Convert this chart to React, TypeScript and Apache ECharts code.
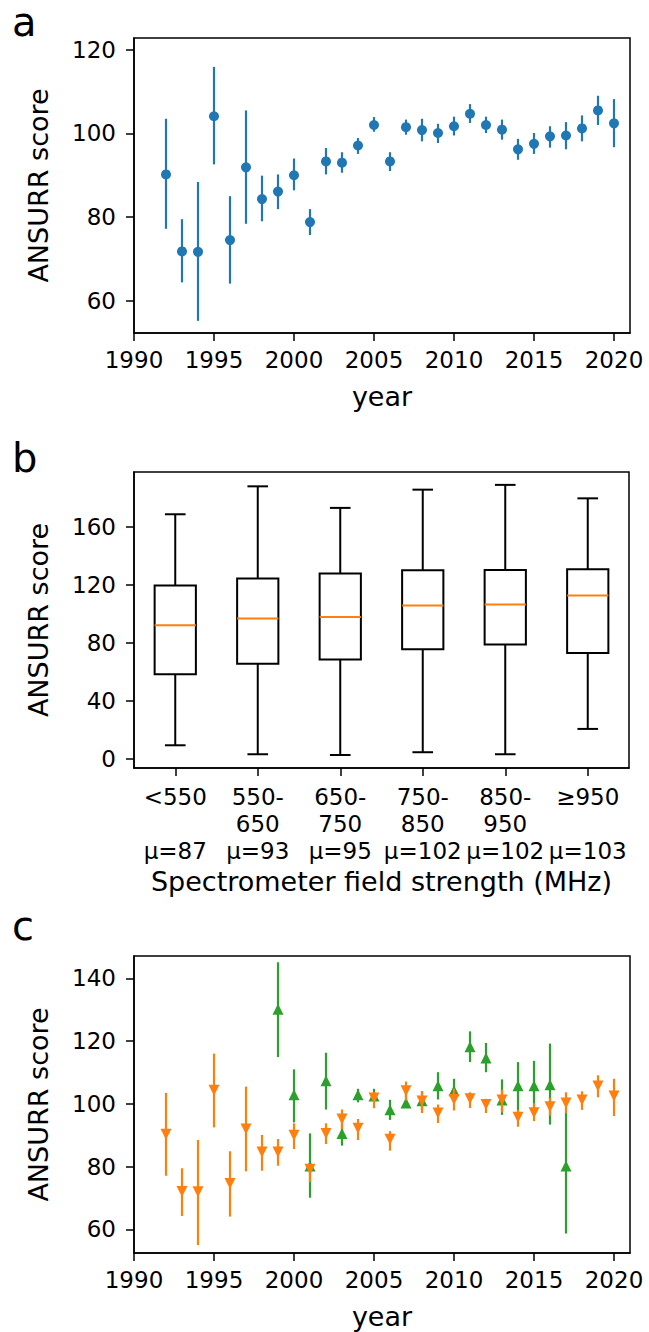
import React, { useEffect, useRef } from "react";
import * as echarts from "echarts";

// ---------- panel a ----------
const years = [1992, 1993, 1994, 1995, 1996, 1997, 1998, 1999, 2000, 2001, 2002, 2003, 2004, 2005, 2006, 2007, 2008, 2009, 2010, 2011, 2012, 2013, 2014, 2015, 2016, 2017, 2018, 2019, 2020];
const scoreA = [90.2, 71.8, 71.7, 104.1, 74.5, 91.9, 84.3, 86.1, 90.0, 78.8, 93.3, 93.0, 97.1, 102.0, 93.3, 101.5, 100.8, 100.1, 101.7, 104.7, 102.0, 100.9, 96.2, 97.5, 99.3, 99.5, 101.2, 105.5, 102.4];
const lowA = [77.2, 64.4, 55.2, 92.6, 64.1, 78.4, 79.0, 81.9, 86.4, 75.7, 90.2, 90.6, 95.1, 100.4, 91.0, 99.7, 98.1, 97.7, 99.5, 102.5, 100.1, 98.5, 93.7, 95.1, 96.6, 96.2, 98.1, 102.0, 96.7];
const highA = [103.5, 79.5, 88.4, 115.9, 85.0, 105.5, 89.9, 90.2, 94.0, 81.9, 96.5, 95.5, 98.9, 103.9, 95.5, 103.3, 103.5, 102.3, 104.0, 107.0, 104.0, 103.3, 98.7, 100.1, 101.7, 102.7, 104.3, 109.0, 108.2];

// ---------- panel b ----------
const fieldCategories = ["<550\n\nμ=87", "550-\n650\nμ=93", "650-\n750\nμ=95", "750-\n850\nμ=102", "850-\n950\nμ=102", "≥950\n\nμ=103"];
const boxMin = [9.2, 3.0, 2.5, 4.4, 3.0, 20.5];
const boxQ1 = [58.3, 65.6, 68.4, 75.5, 78.8, 73.0];
const boxMedian = [92.1, 96.7, 97.9, 105.7, 106.4, 112.6];
const boxQ3 = [119.5, 124.4, 127.8, 130.1, 130.3, 130.8];
const boxMax = [168.8, 188.1, 173.2, 185.8, 189.1, 179.8];

// ---------- panel c ----------
const orangeScore = [90.3, 72.1, 72.0, 104.3, 74.6, 92.0, 84.7, 84.7, 90.0, 79.2, 90.6, 95.2, 92.2, 101.9, 88.7, 104.2, 100.9, 97.1, 101.4, 101.6, 99.8, 101.2, 95.7, 97.2, 99.1, 100.3, 101.2, 105.7, 102.5];
const orangeLow = [77.1, 64.3, 55.0, 92.5, 64.1, 78.5, 78.7, 80.3, 85.6, 75.1, 87.2, 92.0, 88.5, 98.6, 85.1, 101.1, 97.1, 93.9, 97.9, 98.7, 97.1, 97.3, 92.7, 94.5, 96.3, 97.0, 98.1, 102.1, 96.1];
const orangeHigh = [103.5, 79.5, 88.5, 116.0, 84.9, 105.5, 90.1, 88.8, 93.8, 80.8, 93.8, 98.2, 95.2, 103.7, 91.3, 107.1, 104.1, 99.8, 104.8, 103.7, 101.6, 104.5, 98.1, 100.2, 101.9, 103.7, 104.0, 109.1, 108.0];

const greenYears = [1999, 2000, 2001, 2002, 2003, 2004, 2005, 2006, 2007, 2008, 2009, 2010, 2011, 2012, 2013, 2014, 2015, 2016, 2017];
const greenScore = [130.1, 102.9, 80.2, 107.4, 90.6, 102.9, 102.5, 98.1, 100.3, 101.0, 105.8, 104.2, 118.2, 114.6, 101.2, 105.8, 105.8, 106.1, 80.2];
const greenLow = [114.9, 94.1, 70.1, 98.2, 86.7, 100.5, 101.4, 94.9, 99.5, 98.0, 101.4, 101.1, 113.3, 110.1, 96.5, 97.9, 97.9, 93.4, 58.7];
const greenHigh = [145.1, 111.0, 90.6, 116.3, 94.5, 104.8, 104.8, 101.3, 105.5, 104.0, 110.1, 108.0, 123.1, 119.4, 107.8, 113.3, 113.7, 119.2, 97.1];

// ---------- ticks ----------
const yearTicks = [1990, 1995, 2000, 2005, 2010, 2015, 2020];
const ticksA = [60, 80, 100, 120];
const ticksB = [0, 40, 80, 120, 160];
const ticksC = [60, 80, 100, 120, 140];

const BLUE = "#1f77b4";
const ORANGE = "#ff7f0e";
const GREEN = "#2ca02c";
const FONT = "DejaVu Sans";
const TICK_FS = 23;
const LABEL_FS = 27;

function errorSeries(xIdx: number, xs: number[], lo: number[], hi: number[], color: string, z: number) {
  return {
    type: "custom",
    xAxisIndex: xIdx,
    yAxisIndex: xIdx,
    data: xs.map((x, i) => [x, lo[i], hi[i]]),
    renderItem: (params: any, api: any) => {
      const p1 = api.coord([api.value(0), api.value(1)]);
      const p2 = api.coord([api.value(0), api.value(2)]);
      return {
        type: "line",
        shape: { x1: p1[0], y1: p1[1], x2: p2[0], y2: p2[1] },
        style: { stroke: color, lineWidth: 2.2 },
      };
    },
    z,
  };
}

function yearAxis(gridIndex: number) {
  return {
    type: "value",
    gridIndex,
    min: 1990,
    max: 2021,
    interval: 5,
    name: "year",
    nameLocation: "middle",
    nameGap: 50,
    nameTextStyle: { fontFamily: FONT, fontSize: LABEL_FS, color: "#000" },
    axisLine: { show: true, onZero: false, lineStyle: { color: "#000", width: 1.5 } },
    axisTick: { show: true, length: 8, lineStyle: { color: "#000", width: 1.5 }, customValues: yearTicks },
    axisLabel: {
      fontFamily: FONT,
      fontSize: TICK_FS,
      color: "#000",
      margin: 15,
      customValues: yearTicks,
      formatter: (v: number) => String(v),
    },
    splitLine: { show: false },
  };
}

function scoreAxis(gridIndex: number, min: number, max: number, ticks: number[]) {
  return {
    type: "value",
    gridIndex,
    min,
    max,
    name: "ANSURR score",
    nameLocation: "middle",
    nameGap: 82,
    nameTextStyle: { fontFamily: FONT, fontSize: LABEL_FS, color: "#000" },
    axisLine: { show: true, onZero: false, lineStyle: { color: "#000", width: 1.5 } },
    axisTick: { show: true, length: 8, lineStyle: { color: "#000", width: 1.5 }, customValues: ticks },
    axisLabel: {
      fontFamily: FONT,
      fontSize: TICK_FS,
      color: "#000",
      margin: 18,
      customValues: ticks,
      formatter: (v: number) => String(v),
    },
    splitLine: { show: false },
  };
}

export default function App() {
  const ref = useRef<HTMLDivElement>(null);
  useEffect(() => {
    document.body.style.margin = "0";
    const chart = echarts.init(ref.current!, null, { renderer: "svg" });
    const gridStyle = { show: true, borderColor: "#000", borderWidth: 1.5, backgroundColor: "transparent" };
    const option: any = {
      animation: false,
      backgroundColor: "#fff",
      grid: [
        { left: 134, top: 38, width: 496, height: 295, ...gridStyle },
        { left: 134, top: 472, width: 495, height: 296, ...gridStyle },
        { left: 134, top: 956, width: 496, height: 297, ...gridStyle },
      ],
      xAxis: [
        yearAxis(0),
        {
          type: "category",
          gridIndex: 1,
          data: fieldCategories,
          name: "Spectrometer field strength (MHz)",
          nameLocation: "middle",
          nameGap: 100,
          nameTextStyle: { fontFamily: FONT, fontSize: LABEL_FS, color: "#000" },
          axisLine: { show: true, onZero: false, lineStyle: { color: "#000", width: 1.5 } },
          axisTick: { show: true, alignWithLabel: true, length: 8, lineStyle: { color: "#000", width: 1.5 } },
          axisLabel: { fontFamily: FONT, fontSize: TICK_FS, color: "#000", margin: 15, interval: 0, lineHeight: 27, align: "center" },
          splitLine: { show: false },
        },
        yearAxis(2),
      ],
      yAxis: [
        scoreAxis(0, 52.3, 122.8, ticksA),
        scoreAxis(1, -6.5, 198, ticksB),
        scoreAxis(2, 52.5, 147.1, ticksC),
      ],
      graphic: [
        { type: "text", left: 12, top: 2, style: { text: "a", font: `40px ${FONT}`, fill: "#000" } },
        { type: "text", left: 12, top: 438, style: { text: "b", font: `40px ${FONT}`, fill: "#000" } },
        { type: "text", left: 12, top: 906, style: { text: "c", font: `40px ${FONT}`, fill: "#000" } },
      ],
      series: [
        errorSeries(0, years, lowA, highA, BLUE, 2),
        {
          type: "scatter",
          xAxisIndex: 0,
          yAxisIndex: 0,
          data: years.map((y, i) => [y, scoreA[i]]),
          symbol: "circle",
          symbolSize: 10,
          itemStyle: { color: BLUE, opacity: 1 },
          z: 3,
        },
        {
          type: "custom",
          xAxisIndex: 1,
          yAxisIndex: 1,
          data: fieldCategories.map((c, i) => [i, boxMin[i], boxQ1[i], boxMedian[i], boxQ3[i], boxMax[i]]),
          renderItem: (params: any, api: any) => {
            const idx = api.value(0);
            const band = api.size([1, 0])[0];
            const pMin = api.coord([idx, api.value(1)]);
            const pQ1 = api.coord([idx, api.value(2)]);
            const pMed = api.coord([idx, api.value(3)]);
            const pQ3 = api.coord([idx, api.value(4)]);
            const pMax = api.coord([idx, api.value(5)]);
            const cx = pMin[0];
            const bw = band * 0.5;
            const cw = band * 0.25;
            const st = { stroke: "#000", lineWidth: 2, fill: "none" };
            return {
              type: "group",
              children: [
                { type: "line", shape: { x1: cx, y1: pQ1[1], x2: cx, y2: pMin[1] }, style: st },
                { type: "line", shape: { x1: cx, y1: pQ3[1], x2: cx, y2: pMax[1] }, style: st },
                { type: "line", shape: { x1: cx - cw / 2, y1: pMin[1], x2: cx + cw / 2, y2: pMin[1] }, style: st },
                { type: "line", shape: { x1: cx - cw / 2, y1: pMax[1], x2: cx + cw / 2, y2: pMax[1] }, style: st },
                { type: "rect", shape: { x: cx - bw / 2, y: pQ3[1], width: bw, height: pQ1[1] - pQ3[1] }, style: st },
                { type: "line", shape: { x1: cx - bw / 2, y1: pMed[1], x2: cx + bw / 2, y2: pMed[1] }, style: { stroke: ORANGE, lineWidth: 2 } },
              ],
            };
          },
        },
        errorSeries(2, greenYears, greenLow, greenHigh, GREEN, 2),
        {
          type: "scatter",
          xAxisIndex: 2,
          yAxisIndex: 2,
          data: greenYears.map((y, i) => [y, greenScore[i]]),
          symbol: "triangle",
          symbolSize: [11, 11],
          itemStyle: { color: GREEN, opacity: 1 },
          z: 3,
        },
        errorSeries(2, years, orangeLow, orangeHigh, ORANGE, 4),
        {
          type: "scatter",
          xAxisIndex: 2,
          yAxisIndex: 2,
          data: years.map((y, i) => [y, orangeScore[i]]),
          symbol: "triangle",
          symbolRotate: 180,
          symbolSize: [11, 11],
          itemStyle: { color: ORANGE, opacity: 1 },
          z: 5,
        },
      ],
    };
    chart.setOption(option);
    return () => chart.dispose();
  }, []);
  return <div ref={ref} style={{ width: 649, height: 1332 }} />;
}
